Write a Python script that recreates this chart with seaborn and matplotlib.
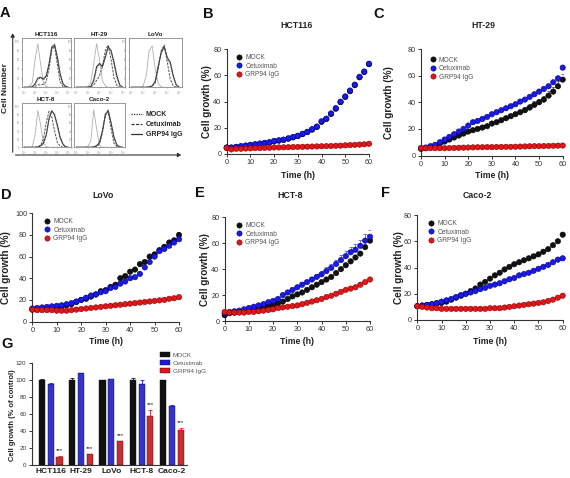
import numpy as np
import pandas as pd
import matplotlib
matplotlib.use("Agg")
import matplotlib.pyplot as plt
from matplotlib.lines import Line2D
from matplotlib.patches import Patch
import seaborn as sns

sns.set_theme(style="ticks")
plt.rcParams['font.family'] = ['Liberation Sans', 'DejaVu Sans']

# ---------------- data ----------------
TREATMENTS = ["MOCK", "Cetuximab", "GRP94 IgG"]
TIME = [0, 2, 4, 6, 8, 10, 12, 14, 16, 18, 20, 22, 24, 26, 28, 30,
        32, 34, 36, 38, 40, 42, 44, 46, 48, 50, 52, 54, 56, 58, 60]

# panel B HCT116
B_MOCK = [4.8, 4.8, 5.2, 5.8, 6.2, 6.8, 7.2, 7.8, 8.3, 8.8, 9.6, 10.2, 10.8, 11.7, 12.7, 13.7,
          15.2, 16.7, 18.6, 20.6, 24.6, 26.8, 30.6, 34.6, 39.6, 43.6, 48.0, 52.6, 58.6, 62.6, 68.6]
B_CETUX = [5, 5, 5.5, 6, 6.5, 7, 7.5, 8, 8.5, 9, 10, 10.5, 11, 12, 13, 14,
           15.5, 17, 19, 21, 25, 27, 31, 35, 40, 44, 48.5, 53, 59, 63, 69]
B_GRP = [4.5, 3.5, 4, 4, 4.2, 4.3, 4.5, 4.5, 4.7, 4.8, 5, 5, 5.1, 5.2, 5.3, 5.4,
         5.5, 5.6, 5.7, 5.8, 5.9, 6, 6.1, 6.3, 6.4, 6.6, 6.8, 7, 7.2, 7.4, 7.8]

# panel C HT-29
C_MOCK = [5, 5.5, 6.5, 7.5, 9, 10.5, 12, 13.5, 15, 16.5, 18, 19, 20, 21, 22, 24,
          25, 26.5, 28, 29.5, 31, 32.5, 34, 36, 38, 40, 42, 45, 48, 52, 57]
C_MOCK_ERR = [0.3, 0.3, 0.4, 0.4, 0.5, 0.6, 0.7, 0.8, 0.8, 0.9, 1, 1, 1.1, 1.1, 1.2, 1.3,
              1.4, 1.5, 1.6, 1.7, 1.8, 2, 2.2, 2.4, 2.6, 2.8, 3, 3.3, 3.6, 4, 4.5]
C_CETUX = [5.5, 6, 7, 8, 10, 12, 14, 16, 18, 20, 22.5, 25, 26, 27.5, 29, 31,
           32.5, 34, 35.5, 37, 38.5, 40.5, 42, 44, 46, 48, 50, 52, 55, 58, 66]
C_GRP = [5.5, 5.5, 5.5, 5.5, 5.5, 5.5, 5.6, 5.7, 5.8, 5.9, 6, 6.1, 6.2, 6.2, 6.3, 6.3,
         6.4, 6.4, 6.5, 6.5, 6.6, 6.7, 6.8, 6.9, 7, 7, 7.1, 7.2, 7.3, 7.4, 7.5]

# panel D LoVo
D_MOCK = [11, 11.5, 12, 12.5, 13, 13.5, 14, 15, 16, 18, 20, 21, 23, 25, 28, 29,
          32, 34, 40, 42, 46, 48, 53, 55, 60, 62, 66, 69, 73, 75, 80]
D_MOCK_ERR = [0.3, 0.3, 0.3, 0.3, 0.4, 0.4, 0.4, 0.5, 0.5, 0.6, 0.6, 0.7, 0.7, 0.8, 0.9, 1,
              1, 1.1, 1.2, 1.3, 1.4, 1.5, 1.6, 1.7, 1.8, 2, 2, 2.1, 2.2, 2.3, 2.5]
D_CETUX = [12, 12.5, 13, 13.5, 14, 14.5, 15, 16, 17, 18.5, 20, 22, 24, 25, 27, 28,
           31, 32, 35, 37, 40, 41, 44, 50, 55, 60, 65, 67, 70, 73, 76]
D_GRP = [11, 10.5, 10.5, 10.5, 10.5, 10, 10, 10, 10.5, 11, 11.5, 12, 12.5, 13, 13.5, 14,
         14.5, 15, 15.5, 16, 16.5, 17, 17.5, 18, 18.5, 19, 19.5, 20, 21, 21.5, 22.5]

# panel E HCT-8
E_MOCK = [4.5, 6, 6.5, 7, 7.5, 8, 9, 9.5, 10.5, 11.5, 12.5, 13.5, 15, 17, 19, 20.5,
          22, 24, 26, 28, 30, 32, 34, 37, 40, 43, 46, 49, 52, 57, 62]
E_CETUX = [6, 7, 7.5, 8, 9, 10, 11, 12, 13, 14.5, 15.5, 17, 20, 22, 24, 26,
           28, 30, 32, 34, 36, 38.5, 41, 44, 47, 50, 53, 55, 58, 62, 65]
E_CETUX_ERR = [0.5, 0.5, 0.5, 0.6, 0.6, 0.7, 0.8, 0.8, 0.9, 1, 1, 1.1, 1.2, 1.3, 1.5, 1.6,
               1.8, 2, 2.2, 2.4, 2.6, 2.8, 3, 3.3, 3.6, 4, 4.2, 4.5, 4.8, 5, 5.5]
E_GRP = [7, 6.5, 6.5, 6.5, 6.5, 7, 7, 7.5, 8, 8.5, 9, 10, 10.5, 11, 11.5, 12,
         13, 14, 15, 16, 17, 18.5, 19.5, 21, 22.5, 24, 25, 26, 28, 30, 32]

# panel F Caco-2
F_MOCK = [10.5, 11, 11.5, 12, 12.5, 13, 14, 15.5, 17, 18.5, 20, 22, 24, 27, 29, 31.5,
          34, 36, 38.5, 40.5, 42.5, 44, 45.5, 47, 48.5, 50, 52, 54, 57, 60, 65]
F_CETUX = [10.5, 11, 11.5, 12, 13, 14, 15, 16, 17.5, 19, 20, 21, 22, 23.5, 24.5, 26,
           27, 28, 29.5, 31, 32, 34, 35, 36, 37.5, 39, 40.5, 42, 44, 46, 47]
F_GRP = [10.5, 10, 9.5, 9, 9, 8.5, 8.5, 8.5, 8.5, 8.5, 8.5, 8.5, 8.5, 8.5, 8.5, 9,
         9, 9, 9.5, 10, 10.5, 11, 11.5, 12, 12.5, 13, 13.5, 14.5, 15.5, 17, 18.5]

# panel G
G_LINES = ["HCT116", "HT-29", "LoVo", "HCT-8", "Caco-2"]
G_MOCK = [100, 100, 100, 100, 100]
G_MOCK_ERR = [1, 3, 0.5, 2.5, 0.5]
G_CETUX = [96, 108, 101, 95, 70]
G_CETUX_ERR = [1, 1, 0.5, 5, 1]
G_GRP = [9, 13, 28, 58, 41]
G_GRP_ERR = [2, 0.5, 0.5, 7, 3]

# panel A flow histograms (x = log10 fluorescence, y = % of max)
HIST_X = [0, 0.25, 0.5, 0.75, 1.0, 1.25, 1.5, 1.75, 2.0, 2.25, 2.5, 2.75, 3.0, 3.25, 3.5, 3.75, 4.0]
HIST_TICKS = ["10$^0$", "10$^1$", "10$^2$", "10$^3$", "10$^4$"]
HCT116_CTRL = [0, 0, 2, 10, 60, 95, 50, 10, 2, 0, 0, 0, 0, 0, 0, 0, 0]
HCT116_GRP = [0, 0, 0, 1, 8, 20, 22, 18, 25, 50, 88, 92, 65, 30, 8, 2, 0]
HCT116_MOCK = [0, 0, 0, 1, 6, 18, 20, 16, 22, 48, 85, 95, 68, 28, 6, 1, 0]
HCT116_CETUX = [0, 0, 0, 0, 2, 5, 6, 6, 12, 40, 80, 90, 50, 12, 2, 0, 0]
HT29_CTRL = [0, 0, 0, 0, 2, 10, 50, 95, 60, 15, 3, 0, 0, 0, 0, 0, 0]
HT29_GRP = [0, 0, 0, 0, 0, 2, 15, 45, 52, 45, 65, 88, 80, 55, 25, 5, 0]
HT29_MOCK = [0, 0, 0, 0, 0, 2, 12, 40, 50, 45, 68, 90, 78, 50, 20, 4, 0]
HT29_CETUX = [0, 0, 0, 0, 0, 1, 5, 15, 25, 45, 80, 92, 60, 20, 4, 0, 0]
LOVO_CTRL = [0, 0, 0, 0, 3, 25, 80, 90, 40, 8, 1, 0, 0, 0, 0, 0, 0]
LOVO_GRP = [0, 0, 0, 0, 0, 0, 1, 3, 12, 45, 75, 88, 65, 55, 25, 5, 0]
LOVO_MOCK = [0, 0, 0, 0, 0, 0, 1, 3, 15, 48, 78, 90, 62, 50, 22, 4, 0]
LOVO_CETUX = [0, 0, 0, 0, 0, 0, 0, 2, 10, 40, 80, 92, 55, 18, 3, 0, 0]
HCT8_CTRL = [0, 0, 0, 1, 30, 90, 55, 10, 2, 0, 0, 0, 0, 0, 0, 0, 0]
HCT8_GRP = [0, 0, 0, 0, 0, 1, 4, 10, 30, 70, 90, 80, 55, 25, 8, 1, 0]
HCT8_MOCK = [0, 0, 0, 0, 0, 1, 3, 9, 28, 68, 88, 78, 50, 22, 6, 1, 0]
HCT8_CETUX = [0, 0, 0, 0, 0, 1, 5, 20, 60, 88, 75, 40, 12, 3, 0, 0, 0]
CACO2_CTRL = [0, 0, 0, 0, 2, 15, 92, 45, 5, 0, 0, 0, 0, 0, 0, 0, 0]
CACO2_GRP = [0, 0, 0, 0, 0, 0, 1, 4, 12, 40, 78, 90, 60, 25, 6, 1, 0]
CACO2_MOCK = [0, 0, 0, 0, 0, 0, 1, 3, 10, 38, 80, 92, 58, 22, 5, 1, 0]
CACO2_CETUX = [0, 0, 0, 0, 0, 0, 0, 2, 8, 35, 82, 88, 45, 10, 2, 0, 0]

# ---------------- styles ----------------
W, H = 570, 478
COL = {"MOCK": "#111111", "Cetuximab": "#1a1ae6", "GRP94 IgG": "#e0161b"}
EDGE = {"MOCK": "#000000", "Cetuximab": "#00008a", "GRP94 IgG": "#8a0000"}
TXT = "#222222"

fig = plt.figure(figsize=(W / 100, H / 100), dpi=100)


def box(l, t, r, b):
    return fig.add_axes([l / W, 1 - b / H, (r - l) / W, (b - t) / H])


def ftext(x, y, s, **kw):
    kw.setdefault("ha", "center")
    kw.setdefault("va", "center")
    kw.setdefault("color", TXT)
    fig.text(x / W, 1 - y / H, s, **kw)


def style_axes(ax, ls=5.2):
    sns.despine(ax=ax)
    for sp in ("left", "bottom"):
        ax.spines[sp].set_linewidth(0.8)
        ax.spines[sp].set_color("#333333")
    ax.tick_params(axis="both", direction="out", length=2.5, width=0.7,
                   labelsize=ls, pad=1.3, colors="#333333", labelcolor="#333333")


def growth_panel(rect, ymax, ystep, series, errs, letter, letter_xy, title, title_xy,
                 ylab_x, xlab_y, leg_xy):
    ax = box(*rect)
    rows = []
    for name, vals in zip(TREATMENTS, series):
        for t, v in zip(TIME, vals):
            rows.append({"Time": t, "Growth": v, "Treatment": name})
    df = pd.DataFrame(rows)
    for name, err in errs.items():
        vals = series[TREATMENTS.index(name)]
        ax.errorbar(TIME, vals, yerr=[[0] * len(err), err], fmt="none", ecolor=COL[name],
                    elinewidth=0.5, capsize=1.3, capthick=0.5, alpha=0.8, zorder=2)
    sns.scatterplot(data=df, x="Time", y="Growth", hue="Treatment", palette=COL,
                    hue_order=TREATMENTS, s=15, linewidth=0.4,
                    edgecolor=[EDGE[tr] for tr in df["Treatment"]],
                    legend=False, ax=ax, clip_on=False, zorder=3)
    ax.set_xlim(0, 60)
    ax.set_ylim(0, ymax)
    ax.set_xticks(range(0, 61, 10))
    ax.set_yticks(range(0, ymax + 1, ystep))
    ax.set_xlabel("")
    ax.set_ylabel("")
    style_axes(ax)
    handles = [Line2D([], [], marker="o", ls="none", markersize=3.8, markerfacecolor=COL[n],
                      markeredgecolor=EDGE[n], markeredgewidth=0.4) for n in TREATMENTS]
    leg = ax.legend(handles, TREATMENTS, loc="upper left",
                    bbox_to_anchor=(leg_xy[0] / W, 1 - leg_xy[1] / H),
                    bbox_transform=fig.transFigure, frameon=False, fontsize=4.8,
                    handlelength=1.0, handletextpad=0.4, labelspacing=0.25,
                    borderpad=0, borderaxespad=0)
    for t in leg.get_texts():
        t.set_color("#555555")
    ftext(*letter_xy, letter, fontsize=10.5, fontweight="bold", color="#111111")
    ftext(*title_xy, title, fontsize=6.3, fontweight="bold")
    cy = (rect[1] + rect[3]) / 2
    ftext(ylab_x, cy, "Cell growth (%)", fontsize=7.2, fontweight="bold", rotation=90)
    ftext((rect[0] + rect[2]) / 2, xlab_y, "Time (h)", fontsize=6.3, fontweight="bold")
    return ax


growth_panel((226.7, 49.3, 369, 154), 80, 20, [B_MOCK, B_CETUX, B_GRP], {},
             "B", (208, 14), "HCT116", (297, 25), 207.5, 175, (236, 54))
growth_panel((421, 49, 562.7, 155.5), 80, 20, [C_MOCK, C_CETUX, C_GRP],
             {"MOCK": C_MOCK_ERR}, "C", (379, 13.5), "HT-29", (483, 25), 389, 175, (429.5, 56.5))
growth_panel((32.3, 213.3, 179, 321.5), 100, 20, [D_MOCK, D_CETUX, D_GRP],
             {"MOCK": D_MOCK_ERR}, "D", (6, 195), "LoVo", (103, 195), 6, 342, (44, 218))
growth_panel((224.7, 217.3, 370, 321), 80, 20, [E_MOCK, E_CETUX, E_GRP],
             {"Cetuximab": E_CETUX_ERR}, "E", (200, 193), "HCT-8", (290, 195), 205.5, 342, (236, 222))
growth_panel((417.3, 215, 562.7, 320), 80, 20, [F_MOCK, F_CETUX, F_GRP], {},
             "F", (385, 193), "Caco-2", (477, 195), 399.5, 342, (428, 220))

# ---------------- panel G ----------------
axG = box(31.7, 363.3, 187, 465)
dfG = pd.DataFrame({
    "Line": G_LINES * 3,
    "Growth": G_MOCK + G_CETUX + G_GRP,
    "Treatment": [TREATMENTS[0]] * 5 + [TREATMENTS[1]] * 5 + [TREATMENTS[2]] * 5,
})
sns.barplot(data=dfG, x="Line", y="Growth", hue="Treatment", hue_order=TREATMENTS,
            palette=COL, width=0.87, gap=0.3, errorbar=None, legend=False,
            edgecolor="#111111", linewidth=0.3, ax=axG, zorder=2)
for cont, err, name in zip(axG.containers, [G_MOCK_ERR, G_CETUX_ERR, G_GRP_ERR], TREATMENTS):
    xs = [p.get_x() + p.get_width() / 2 for p in cont.patches]
    ys = [p.get_height() for p in cont.patches]
    axG.errorbar(xs, ys, yerr=[[0] * len(err), err], fmt="none", ecolor=COL[name],
                 elinewidth=0.6, capsize=1.3, capthick=0.6, zorder=3)
    if name == "GRP94 IgG":
        for x, y, e in zip(xs, ys, err):
            axG.text(x, y + e + 3, "***", ha="center", va="bottom", fontsize=4.5, color="#111111")
axG.set_xlim(-0.63, 4.5)
axG.set_ylim(0, 120)
axG.set_yticks(range(0, 121, 20))
axG.set_xlabel("")
axG.set_ylabel("")
style_axes(axG, ls=4.5)
axG.tick_params(axis="x", length=0, labelsize=6.0, pad=2.5)
for lab in axG.get_xticklabels():
    lab.set_fontweight("bold")
    lab.set_color(TXT)
ftext(13, 415, "Cell growth (% of control)", fontsize=5.4, fontweight="bold", rotation=90)
ftext(7.5, 344, "G", fontsize=10.5, fontweight="bold", color="#111111")
hG = [Patch(facecolor=COL[n], edgecolor="#111111", linewidth=0.3) for n in TREATMENTS]
legG = axG.legend(hG, TREATMENTS, loc="upper left", bbox_to_anchor=(159.5 / W, 1 - 352 / H),
                  bbox_transform=fig.transFigure, frameon=False, fontsize=4.6,
                  handlelength=1.7, handleheight=0.9, handletextpad=0.4, labelspacing=0.35,
                  borderpad=0, borderaxespad=0)
for t in legG.get_texts():
    t.set_color("#555555")

# ---------------- panel A ----------------
HISTS = [
    ("HCT116", (21.7, 37.7, 70.7, 87.3), HCT116_CTRL, HCT116_MOCK, HCT116_CETUX, HCT116_GRP),
    ("HT-29", (74, 37.7, 125, 87.3), HT29_CTRL, HT29_MOCK, HT29_CETUX, HT29_GRP),
    ("LoVo", (128.7, 37.7, 181.7, 87.3), LOVO_CTRL, LOVO_MOCK, LOVO_CETUX, LOVO_GRP),
    ("HCT-8", (21.7, 103.3, 70.7, 147.3), HCT8_CTRL, HCT8_MOCK, HCT8_CETUX, HCT8_GRP),
    ("Caco-2", (74, 103.3, 125, 147.3), CACO2_CTRL, CACO2_MOCK, CACO2_CETUX, CACO2_GRP),
]
for name, rect, ctrl, mock, cetux, grp in HISTS:
    ax = box(*rect)
    sns.lineplot(x=HIST_X, y=ctrl, ax=ax, color="#b0b0b0", lw=0.6)
    sns.lineplot(x=HIST_X, y=mock, ax=ax, color="#555555", lw=0.7, ls=(0, (1, 1)))
    sns.lineplot(x=HIST_X, y=cetux, ax=ax, color="#555555", lw=0.7, ls=(0, (2.5, 1.2)))
    sns.lineplot(x=HIST_X, y=grp, ax=ax, color="#444444", lw=0.8)
    ax.set_xlim(-0.2, 4.2)
    ax.set_ylim(0, 108)
    ax.set_xticks([0, 1, 2, 3, 4])
    ax.set_xticklabels(HIST_TICKS)
    ax.set_yticks([0, 20, 40, 60, 80, 100])
    ax.tick_params(axis="both", direction="out", length=1, width=0.4, labelsize=2.0,
                   pad=0.3, colors="#888888", labelcolor="#999999")
    for sp in ax.spines.values():
        sp.set_linewidth(0.6)
        sp.set_color("#8a8a8a")
    ftext((rect[0] + rect[2]) / 2, rect[1] - 3.6, name, fontsize=4.6, fontweight="bold")

ftext(5, 13, "A", fontsize=10.5, fontweight="bold", color="#111111")
ftext(6, 88, "Cell Number", fontsize=6, fontweight="bold", rotation=90)
fig.add_artist(matplotlib.patches.FancyArrowPatch(
    (12.7 / W, 1 - 155 / H), (12.7 / W, 1 - 30.5 / H), transform=fig.transFigure,
    arrowstyle="-|>,head_length=2,head_width=1.2", color="#333333", lw=0.8))
fig.add_artist(matplotlib.patches.FancyArrowPatch(
    (12.7 / W, 1 - 155 / H), (184 / W, 1 - 155 / H), transform=fig.transFigure,
    arrowstyle="-|>,head_length=2,head_width=1.2", color="#333333", lw=0.8))
hA = [Line2D([], [], color="#333333", lw=0.9, ls=(0, (1, 1))),
      Line2D([], [], color="#333333", lw=0.9, ls=(0, (2.5, 1.2))),
      Line2D([], [], color="#333333", lw=0.9)]
fig.legend(hA, TREATMENTS, loc="upper left", bbox_to_anchor=(131 / W, 1 - 111 / H),
           frameon=False, prop={"size": 5, "weight": "bold"}, handlelength=1.6,
           handletextpad=0.5, labelspacing=0.45, borderpad=0, borderaxespad=0)

fig.savefig("out.png", dpi=100)
